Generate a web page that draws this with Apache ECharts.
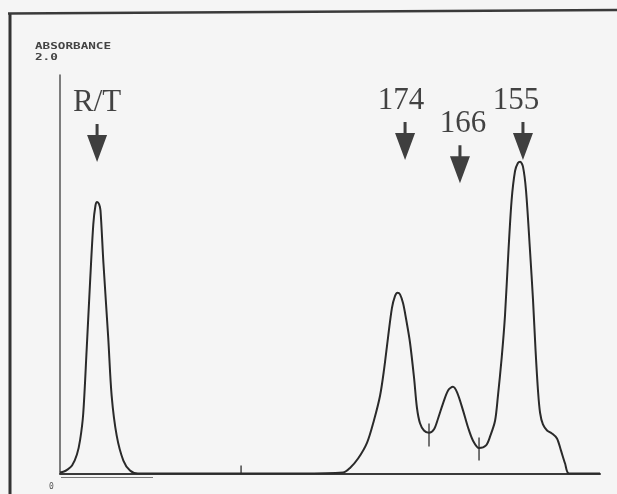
<!DOCTYPE html>
<html><head><meta charset="utf-8">
<script src="https://cdn.jsdelivr.net/npm/echarts@6/dist/echarts.min.js"></script>
<style>html,body{margin:0;padding:0;background:#f5f5f5;}#c{width:617px;height:494px;}</style>
</head><body><div id="c"></div>
<script>
// Retention time (min) and absorbance
const traceTime = [0.00,0.22,0.39,0.67,0.94,1.12,1.29,1.48,1.67,1.85,1.97,2.06,2.17,2.25,2.41,2.68,2.87,3.15,3.52,3.89,4.33,
  10.00,13.33,15.72,16.11,16.56,17.06,17.44,17.78,18.00,18.22,18.44,18.61,18.75,18.89,19.06,19.22,19.44,19.67,19.83,20.00,20.22,20.50,
  20.78,21.00,21.28,21.56,21.83,22.06,22.39,22.67,22.94,23.28,23.67,23.89,24.17,24.33,24.54,24.72,24.91,25.09,25.28,25.44,25.56,25.72,
  25.89,26.11,26.28,26.42,26.56,26.67,26.83,27.06,27.33,27.61,27.83,28.06,28.28,30.00];
const traceAbs = [0.005,0.010,0.018,0.040,0.095,0.170,0.300,0.620,0.960,1.250,1.345,1.363,1.352,1.320,1.060,0.680,0.390,0.190,0.065,0.015,0.000,
  0.000,0.000,0.005,0.028,0.075,0.155,0.266,0.390,0.520,0.680,0.830,0.890,0.907,0.899,0.854,0.779,0.660,0.480,0.330,0.252,0.216,0.204,
  0.222,0.275,0.352,0.417,0.435,0.407,0.317,0.231,0.166,0.128,0.141,0.185,0.265,0.390,0.583,0.790,1.110,1.372,1.518,1.558,1.565,1.540,
  1.420,1.121,0.869,0.618,0.410,0.305,0.246,0.216,0.201,0.176,0.116,0.050,0.000,0.000];
// Peak annotations
const peakNames = ['R/T','174','166','155'];
const peakTime = [2.06,19.17,22.22,25.72];
const peakArrowTip = [1.563,1.573,1.457,1.573];
// Integration tick marks (time, centre absorbance, length in absorbance units)
const markTime = [10.06,20.50,23.28];
const markAbs = [0.020,0.193,0.123];
const markLen = [0.040,0.116,0.116];
// Axis
const yMin = 0, yMax = 2.0, xMin = 0, xMax = 30;

const labelDx = [0,-4,3,-7];
const chart = echarts.init(document.getElementById('c'));
const yPx = 398; // grid height in px
const trace = traceTime.map((t,i)=>[t,traceAbs[i]]);
const arrowPath = 'path://M8.5,0 L11.5,0 L11.5,11 L20,11 L10,38 L0,11 L8.5,11 Z';
chart.setOption({
  backgroundColor:'#f5f5f5',
  animation:false,
  grid:{left:60,right:17,top:75,bottom:20.5},
  xAxis:{type:'value',min:xMin,max:xMax,axisLine:{show:true,onZero:false,lineStyle:{color:'#3a3a3a',width:2}},
    axisTick:{show:false},axisLabel:{show:false},splitLine:{show:false}},
  yAxis:{type:'value',min:yMin,max:yMax,axisLine:{show:true,lineStyle:{color:'#555',width:1.5}},
    axisTick:{show:false},axisLabel:{show:false},splitLine:{show:false}},
  series:[
    {type:'line',data:trace,showSymbol:false,smooth:0.3,
      lineStyle:{color:'#2a2a2a',width:2},z:3},
    {type:'scatter',data:markTime.map((t,i)=>[t,markAbs[i],markLen[i]]),symbol:'rect',
      symbolSize:(v)=>[1.6,v[2]/(yMax-yMin)*yPx],itemStyle:{color:'#2a2a2a'},z:4},
    {type:'scatter',data:peakTime.map((t,i)=>({name:peakNames[i],value:[t,peakArrowTip[i]],
        label:{offset:[labelDx[i],0]}})),
      symbol:arrowPath,symbolSize:[20,38],symbolOffset:[0,-19],itemStyle:{color:'#111'},z:5,
      label:{show:true,position:'top',distance:6,formatter:'{b}',fontFamily:'Liberation Serif',fontSize:31,color:'#151515'}}
  ],
  graphic:[
    {type:'line',shape:{x1:10,y1:13,x2:10,y2:494},style:{stroke:'#333',lineWidth:3}},
    {type:'line',shape:{x1:8,y1:13.5,x2:617,y2:10},style:{stroke:'#3a3a3a',lineWidth:2.5}},
    {type:'line',shape:{x1:61,y1:477.5,x2:153,y2:477.5},style:{stroke:'#777',lineWidth:1.2}},
    {type:'text',left:35,top:42,style:{text:'ABSORBANCE',font:'bold 9.5px "DejaVu Sans Mono"',fill:'#444'},scaleX:1.33},
    {type:'text',left:35,top:53,style:{text:'2.0',font:'bold 9.5px "DejaVu Sans Mono"',fill:'#444'},scaleX:1.33},
    {type:'text',left:49,top:483,style:{text:'0',font:'8px "DejaVu Sans Mono"',fill:'#555'}}
  ]
});
</script></body></html>
